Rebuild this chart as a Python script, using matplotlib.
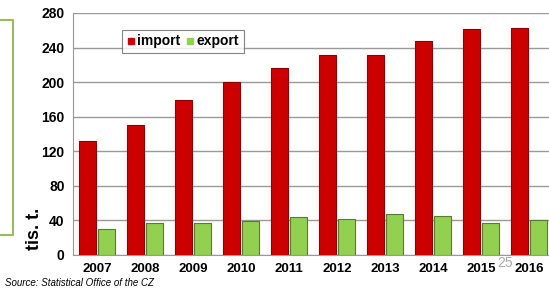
import numpy as np
import matplotlib
matplotlib.use("Agg")
import matplotlib.pyplot as plt
from matplotlib.lines import Line2D

years = ["2007", "2008", "2009", "2010", "2011", "2012", "2013", "2014", "2015", "2016"]
imports = [132, 150, 179, 200, 216, 231, 231, 248, 262, 263]
exports = [30, 37, 37, 39, 44, 42, 47, 45, 37, 40]
yticks = [0, 40, 80, 120, 160, 200, 240, 280]

fig = plt.figure(figsize=(5.49, 2.91), dpi=100)
W, H = 549, 291
# plot area: left 73px, top 13px, bottom 255px, runs past the right edge
ax = fig.add_axes([73 / W, 1 - 255 / H, 480 / W, (255 - 13) / H])

x = np.arange(len(years))
bw = 0.36
ax.bar(x - bw / 2 - 0.02, imports, bw, color="#cc0000", edgecolor="#8b0000", linewidth=0.8, zorder=3)
ax.bar(x + bw / 2 + 0.02, exports, bw, color="#92d050", edgecolor="#5a7a30", linewidth=0.8, zorder=3)

ax.set_xlim(-0.5, len(years) - 0.5)
ax.set_ylim(0, 280)
ax.set_yticks(yticks)
ax.set_yticklabels([str(t) for t in yticks], fontsize=10, fontweight="bold", family="Liberation Sans")
ax.set_xticks(x)
ax.set_xticklabels(years, fontsize=9.5, fontweight="bold", family="Liberation Sans")
ax.tick_params(length=0, pad=6)
ax.grid(axis="y", color="#999999", linewidth=1, zorder=0)
for s in ["top", "right"]:
    ax.spines[s].set_visible(False)
ax.spines["left"].set_color("#999999")
ax.spines["bottom"].set_color("#999999")

ax.set_ylabel("tis. t.", fontsize=13, fontweight="bold", family="Liberation Sans")
ax.yaxis.set_label_coords(-0.062, 0.11)

handles = [Line2D([], [], marker="s", ls="", color="#cc0000", markersize=4.5),
           Line2D([], [], marker="s", ls="", color="#92d050", markersize=4.5)]
leg = ax.legend(handles, ["import", "export"], loc="upper left", bbox_to_anchor=(0.088, 0.96),
                ncol=2, frameon=True, fancybox=False, handlelength=0.5, handletextpad=0.2,
                columnspacing=0.5, borderpad=0.35,
                prop={"weight": "bold", "size": 10, "family": "Liberation Sans"})
leg.get_frame().set_edgecolor("#666666")
leg.get_frame().set_linewidth(0.8)

# green bracket at left edge
fig.add_artist(Line2D([0, 13 / W, 13 / W, 0], [1 - 20 / H, 1 - 20 / H, 1 - 235 / H, 1 - 235 / H],
                      color="#9bbb59", linewidth=1.5))

fig.text(505 / W, 1 - 263 / H, "25", fontsize=10, color="#aaaaaa", ha="center", va="center",
         family="Liberation Sans")
fig.text(5 / W, 1 - 283 / H, "Source: Statistical Office of the CZ", fontsize=7, style="italic",
         va="center", family="Liberation Sans")

fig.savefig("out.png", dpi=100)
